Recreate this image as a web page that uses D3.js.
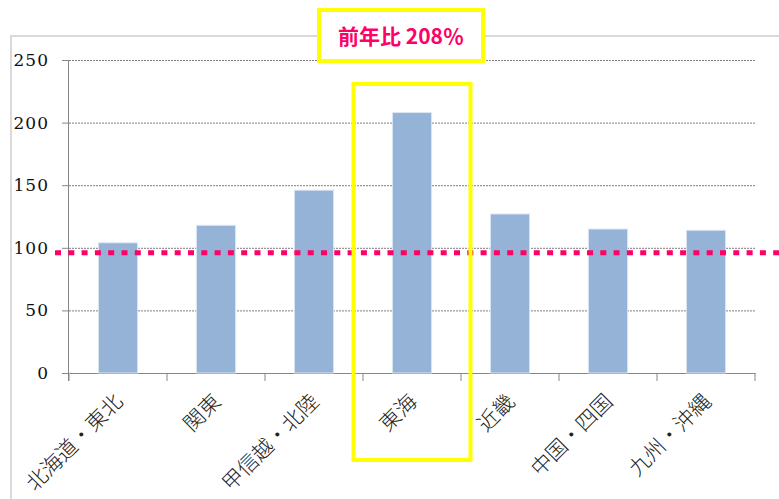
<!DOCTYPE html>
<html>
<head>
<meta charset="utf-8">
<script src="https://cdn.jsdelivr.net/npm/d3@7"></script>
<style>
  body { margin: 0; background: #fff; }
  svg { display: block; }
</style>
</head>
<body>
<svg width="779" height="499"></svg>
<script>
'use strict';
// data
const categories = ['北海道・東北', '関東', '甲信越・北陸', '東海', '近畿', '中国・四国', '九州・沖縄'];
const values = [104, 118, 146, 208, 127, 115, 114];
const yTicks = [0, 50, 100, 150, 200, 250];
const referenceValue = 96;     // red dotted line
const highlightIndex = 3;      // 東海
const highlightLabel = '前年比 208％';

(() => {
  const svg = d3.select('svg');
  const width = +svg.attr('width');
  const height = +svg.attr('height');

  const x = d3.scaleBand().domain(categories).range([69, 755]).padding(0);
  const y = d3.scaleLinear().domain([0, 250]).range([373, 60]);
  const barW = x.step() / 2.5;

  // outer chart frame (only top and left edges are visible)
  svg.append('path')
    .attr('d', `M11,${height}V36H${width}`)
    .attr('fill', 'none')
    .attr('stroke', '#d9d9d9')
    .attr('stroke-width', 2);

  // gridlines
  svg.append('g').selectAll('line').data(yTicks.filter(d => d > 0)).join('line')
    .attr('x1', x.range()[0]).attr('x2', x.range()[1])
    .attr('y1', d => y(d) + 0.5).attr('y2', d => y(d) + 0.5)
    .attr('stroke', '#7f7f7f')
    .attr('stroke-width', 1)
    .attr('stroke-dasharray', '2,1');

  // y axis
  const ya = svg.append('g')
    .attr('transform', `translate(${x.range()[0]},0)`)
    .call(d3.axisLeft(y).tickValues(yTicks).tickSize(7).tickPadding(13));
  ya.select('.domain').attr('stroke', '#868686').attr('d', `M-0.5,${y(250)}V${y(0) + 8}`);
  ya.selectAll('.tick line').attr('stroke', '#868686');
  ya.selectAll('.tick text')
    .attr('fill', '#111')
    .style('font-family', '"DejaVu Serif", serif')
    .style('font-size', '17px')
    .style('letter-spacing', '1px');

  // x axis
  const xa = svg.append('g')
    .attr('transform', `translate(0,${y(0)})`)
    .call(d3.axisBottom(x).tickSize(0).tickFormat(''));
  xa.select('.domain').attr('stroke', '#868686');
  xa.selectAll('.tick').remove();
  xa.selectAll('line.edge')
    .data(categories.map(c => x(c)).concat([x.range()[1]]))
    .join('line')
    .attr('class', 'edge')
    .attr('x1', d => d).attr('x2', d => d)
    .attr('y1', 0).attr('y2', 8)
    .attr('stroke', '#868686');

  // bars
  svg.append('g').selectAll('rect').data(values).join('rect')
    .attr('x', (d, i) => x(categories[i]) + (x.step() - barW) / 2)
    .attr('width', barW)
    .attr('y', d => y(d))
    .attr('height', d => y(0) - y(d))
    .attr('fill', '#95b3d7')
    .attr('stroke', '#dce6f2')
    .attr('stroke-width', 1);

  // category labels, rotated
  svg.append('g').selectAll('text').data(categories).join('text')
    .attr('transform', d => `translate(${x(d) + x.bandwidth() / 2 + 6},${y(0) + 30}) rotate(-45)`)
    .attr('text-anchor', 'end')
    .attr('fill', '#222')
    .style('font-family', '"Noto Sans CJK JP", sans-serif')
    .style('font-size', '21px')
    .style('font-weight', 300)
    .text(d => d);

  // reference line
  svg.append('line')
    .attr('x1', 55).attr('x2', width)
    .attr('y1', y(referenceValue)).attr('y2', y(referenceValue))
    .attr('stroke', '#ff0066')
    .attr('stroke-width', 5)
    .attr('stroke-dasharray', '6,7.3');

  // highlight frame around the 東海 bar
  const hc = categories[highlightIndex];
  svg.append('rect')
    .attr('x', x(hc) - 9.5)
    .attr('y', 84)
    .attr('width', x.step() + 19)
    .attr('height', 376)
    .attr('fill', 'none')
    .attr('stroke', '#ffff00')
    .attr('stroke-width', 4);

  // label box
  const lx = x(hc) + x.step() / 2 - 11;
  const box = svg.append('g').attr('transform', `translate(${lx},36)`);
  box.append('rect')
    .attr('x', -82).attr('y', -26)
    .attr('width', 164).attr('height', 51)
    .attr('fill', '#fff')
    .attr('stroke', '#ffff00')
    .attr('stroke-width', 4);
  box.append('text')
    .attr('text-anchor', 'middle')
    .attr('y', 8)
    .attr('fill', '#ff0066')
    .style('font-family', '"Noto Sans CJK JP", sans-serif')
    .style('font-size', '21px')
    .style('font-weight', 700)
    .text(highlightLabel);
})();
</script>
</body>
</html>
